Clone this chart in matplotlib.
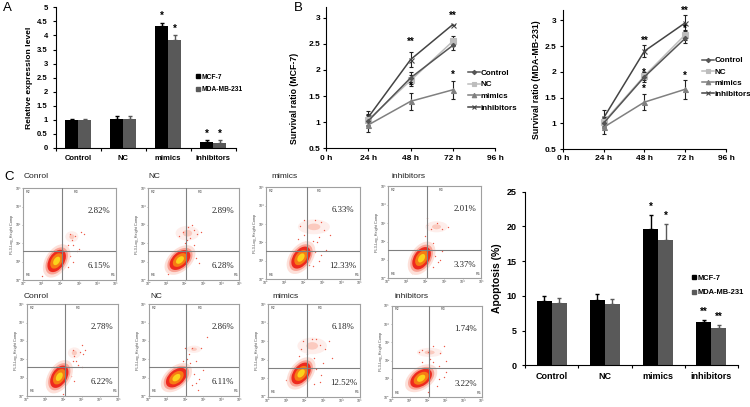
import matplotlib
matplotlib.use('Agg')
import matplotlib.pyplot as plt
from matplotlib.patches import Ellipse

plt.rcParams['font.family'] = ['Liberation Sans', 'DejaVu Sans']

W, H = 750, 407

groups = ['Control', 'NC', 'mimics', 'inhibitors']
cells = ['MCF-7', 'MDA-MB-231']
times = ['0 h', '24 h', '48 h', '72 h', '96 h']

# panel A
expr_mcf = [1.0, 1.02, 4.32, 0.22]
expr_mcf_err = [0.03, 0.1, 0.13, 0.05]
expr_mda = [1.0, 1.04, 3.83, 0.17]
expr_mda_err = [0.03, 0.08, 0.17, 0.1]
expr_stars = ['', '', '*', '*']

# panel B, 24/48/72 h
surv_hours = [1, 2, 3]
mcf_control = [1.03, 1.85, 2.47]
mcf_nc = [1.05, 1.80, 2.55]
mcf_mimics = [0.95, 1.40, 1.62]
mcf_inhib = [1.10, 2.20, 2.87]
mcf_control_err = [0.10, 0.12, 0.08]
mcf_nc_err = [0.10, 0.10, 0.10]
mcf_mimics_err = [0.13, 0.16, 0.17]
mcf_inhib_err = [0.12, 0.15, 0.0]
mcf_star_vals = [2.53, 1.70, 3.03, 1.90]
mcf_star_hours = [2, 2, 3, 3]
mcf_star_text = ['**', '*', '**', '*']

mda_control = [1.0, 1.90, 2.65]
mda_nc = [1.02, 1.92, 2.72]
mda_mimics = [0.92, 1.41, 1.66]
mda_inhib = [1.10, 2.40, 2.95]
mda_control_err = [0.10, 0.09, 0.10]
mda_nc_err = [0.10, 0.08, 0.10]
mda_mimics_err = [0.13, 0.15, 0.18]
mda_inhib_err = [0.16, 0.12, 0.15]
mda_star_vals = [2.60, 1.98, 1.66, 3.18, 2.84, 1.93]
mda_star_hours = [2, 2, 2, 3, 3, 3]
mda_star_text = ['**', '*', '*', '**', '*', '*']

# panel C bars
apop_mcf = [9.3, 9.4, 19.7, 6.2]
apop_mcf_err = [0.7, 0.9, 1.9, 0.35]
apop_mda = [9.0, 8.8, 18.0, 5.4]
apop_mda_err = [0.7, 0.7, 2.3, 0.4]
apop_stars = ['', '', '*', '**']

# flow panels, log units
flow_titles = ['Conrol', 'NC', 'mimics', 'inhibitors'] * 2
flow_upper = ['2.82%', '2.89%', '6.33%', '2.01%', '2.78%', '2.86%', '6.18%', '1.74%']
flow_lower = ['6.15%', '6.28%', '12.33%', '3.37%', '6.22%', '6.11%', '12.52%', '3.22%']
flow_cross_x = [2.10, 2.07, 2.16, 2.10, 2.09, 2.06, 2.10, 2.08]
flow_cross_y = [1.58, 1.60, 1.54, 1.52, 1.58, 1.56, 1.53, 1.58]
blob_x = [1.80, 1.74, 1.86, 1.80, 1.78, 1.53, 1.80, 1.63]
blob_y = [1.04, 1.09, 1.18, 1.09, 1.05, 1.00, 1.26, 1.04]
blob_angle = [58, 42, 55, 58, 58, 40, 52, 35]
cloud_x = [2.62, 2.15, 2.55, 2.60, 2.60, 2.50, 2.40, 2.10]
cloud_y = [2.36, 2.55, 2.85, 2.80, 2.35, 2.55, 2.75, 2.45]
cloud_w = [0.7, 1.3, 1.7, 1.2, 0.7, 0.8, 1.6, 1.4]
cloud_h = [0.6, 0.8, 0.8, 0.6, 0.6, 0.4, 0.9, 0.5]

flow_specks = [
    [(2.5, 2.5), (2.6, 2.2), (2.8, 2.4), (3.1, 2.6), (2.7, 1.9), (3.0, 1.7), (2.9, 1.6), (2.4, 1.9),
     (2.5, 1.3), (2.7, 1.0), (2.4, 0.7), (1.0, 0.2), (1.3, 0.5), (2.2, 1.7), (2.05, 1.9), (3.3, 2.5)],
    [(1.7, 2.4), (1.9, 2.6), (2.2, 2.9), (2.3, 2.3), (2.5, 2.7), (2.7, 2.5), (2.0, 2.0), (2.3, 1.8),
     (2.5, 1.9), (2.6, 1.2), (2.8, 0.9), (1.1, 0.3), (2.1, 1.5), (2.9, 2.6), (2.1, 2.2), (2.4, 3.0)],
    [(1.8, 2.9), (2.0, 2.4), (2.1, 2.0), (2.5, 2.1), (2.7, 2.0), (2.9, 1.3), (2.8, 1.0), (2.5, 0.7),
     (2.6, 1.5), (3.1, 2.7), (3.4, 2.4), (1.7, 2.2), (2.2, 1.8), (1.2, 0.6), (2.9, 3.1), (3.2, 1.6),
     (2.3, 0.8), (2.0, 3.2), (2.6, 3.2), (2.8, 2.3)],
    [(2.1, 2.9), (2.3, 2.7), (2.6, 3.0), (2.9, 2.7), (3.2, 2.8), (2.0, 1.9), (2.2, 1.7), (2.5, 1.2),
     (2.7, 0.9), (2.4, 0.6), (2.1, 3.3), (2.0, 2.3), (2.4, 1.9), (2.9, 1.5), (1.3, 0.3), (2.8, 1.0)],
    [(2.5, 2.5), (2.6, 2.2), (2.9, 2.4), (3.2, 2.5), (2.7, 1.9), (3.0, 1.6), (2.8, 1.7), (2.5, 1.9),
     (2.4, 1.1), (2.6, 0.8), (1.4, 0.3), (1.2, 0.5), (2.0, 0.1), (2.2, 1.8), (3.1, 2.3), (3.0, 2.8)],
    [(2.1, 2.0), (2.2, 2.3), (2.3, 1.8), (1.9, 1.9), (2.4, 2.6), (2.9, 2.6), (3.2, 3.2), (2.6, 1.9),
     (2.5, 1.2), (2.8, 0.9), (3.0, 1.4), (2.4, 0.6), (2.7, 0.3), (1.8, 1.7), (2.6, 0.7), (2.0, 2.6)],
    [(1.8, 2.6), (1.9, 3.0), (2.1, 2.3), (2.0, 1.9), (2.5, 2.1), (2.6, 1.5), (2.9, 1.2), (2.8, 0.8),
     (2.5, 0.7), (3.1, 2.6), (3.3, 3.0), (3.5, 2.1), (1.2, 0.6), (1.0, 0.9), (2.4, 3.1), (2.8, 2.8),
     (3.0, 1.8), (2.2, 1.0), (2.6, 3.1), (1.7, 2.2)],
    [(1.5, 2.5), (1.7, 2.6), (2.0, 2.5), (2.3, 2.8), (2.7, 2.4), (2.9, 2.8), (3.0, 2.0), (2.6, 1.7),
     (2.3, 1.9), (2.1, 2.1), (2.6, 1.0), (2.9, 1.1), (2.5, 0.6), (2.0, 0.3), (1.7, 1.9), (3.0, 1.4)],
]


def px_axes(left, top, right, bottom):
    return fig.add_axes([left / W, 1 - bottom / H, (right - left) / W, (bottom - top) / H])


def bar_panel(ax, vals1, err1, vals2, err2, stars, ymax, step, star_gap, width, fs, ylabel, ylab_fs, star_fs):
    x = list(range(4))
    for off, vals, err, col in [(-width / 2, vals1, err1, 'black'), (width / 2, vals2, err2, '#595959')]:
        xs = [i + off for i in x]
        ax.bar(xs, vals, width, color=col, yerr=[[0] * 4, err], ecolor=col,
               error_kw=dict(lw=1.0, capsize=1.6, capthick=1.0))
        for xi, v, e, s in zip(xs, vals, err, stars):
            if s:
                ax.text(xi, v + e + star_gap, s, ha='center', va='center', fontsize=star_fs, fontweight='bold')
    ax.set_xlim(-0.5, 3.5)
    ax.set_ylim(0, ymax)
    ticks = [step * i for i in range(int(round(ymax / step)) + 1)]
    ax.set_yticks(ticks)
    ax.set_yticklabels([f'{t:g}' for t in ticks], fontsize=fs, fontweight='bold')
    ax.set_xticks([-0.5, 0.5, 1.5, 2.5, 3.5])
    ax.set_xticklabels([])
    ax.set_xticks(x, minor=True)
    ax.set_xticklabels(groups, minor=True, fontsize=fs, fontweight='bold')
    ax.tick_params(axis='x', which='minor', length=0, pad=5)
    ax.tick_params(axis='both', which='major', length=2.5, width=0.8, direction='out')
    ax.set_ylabel(ylabel, fontsize=ylab_fs, fontweight='bold', labelpad=3)
    for s in ['top', 'right']:
        ax.spines[s].set_visible(False)


def line_panel(ax, series, errs, star_hours, star_vals, star_text, ylabel):
    styles = [('#555555', 'D', 2.2), ('#bdbdbd', 's', 3.8), ('#808080', '^', 3.6), ('#444444', 'x', 3.6)]
    order = [3, 1, 2, 0]
    for i in order:
        col, mk, ms = styles[i]
        ax.errorbar(surv_hours, series[i], yerr=errs[i], color=col, marker=mk, ms=ms, lw=1.1, mew=0.8,
                    ecolor='#222222', elinewidth=0.8, capsize=1.5, capthick=0.8)
    for h, v, s in zip(star_hours, star_vals, star_text):
        ax.text(h, v, s, ha='center', va='center', fontsize=7, fontweight='bold')
    ax.set_xlim(0, 4)
    ax.set_ylim(0.5, 3.2)
    ax.set_yticks([0.5, 1, 1.5, 2, 2.5, 3])
    ax.set_yticklabels(['0.5', '1', '1.5', '2', '2.5', '3'], fontsize=6, fontweight='bold')
    ax.set_xticks(range(5))
    ax.set_xticklabels(times, fontsize=6, fontweight='bold')
    ax.tick_params(length=2.5, width=0.8, pad=2)
    ax.set_ylabel(ylabel, fontsize=6.3, fontweight='bold', labelpad=3)
    for s in ['top', 'right']:
        ax.spines[s].set_visible(False)


def flow_panel(box, i):
    ax = px_axes(*box)
    ax.set_xlim(0, 5)
    ax.set_ylim(0, 5)
    pale = Ellipse((cloud_x[i], cloud_y[i]), cloud_w[i], cloud_h[i], color='#feeeeb', lw=0, zorder=1)
    ax.add_patch(pale)
    core = Ellipse((cloud_x[i], cloud_y[i]), cloud_w[i] * 0.4, cloud_h[i] * 0.45, color='#fbcabf', lw=0, zorder=1)
    ax.add_patch(core)
    xs = [p[0] for p in flow_specks[i]]
    ys = [p[1] for p in flow_specks[i]]
    ax.scatter(xs, ys, s=1.0, color='#ee5a48', lw=0, zorder=2)
    # nested rings for the dense population
    for scale, col in [(1.25, '#fde0d9'), (1.02, '#f9a294'), (0.84, '#ee2a1e'), (0.58, '#f77a14'), (0.32, '#fbd21c')]:
        ax.add_patch(Ellipse((blob_x[i], blob_y[i]), 1.6 * scale, 0.98 * scale, angle=blob_angle[i],
                             color=col, lw=0, zorder=3))
    ax.axvline(flow_cross_x[i], color='#808080', lw=0.8, zorder=4)
    ax.axhline(flow_cross_y[i], color='#808080', lw=0.8, zorder=4)
    ax.text(4.1, 3.75, flow_upper[i], family='Liberation Serif', fontsize=6.3, color='#222222', ha='center', va='center', zorder=5)
    ax.text(4.1, 0.74, flow_lower[i], family='Liberation Serif', fontsize=6.3, color='#222222', ha='center', va='center', zorder=5)
    ax.text(0.15, 4.8, 'R2', fontsize=2.6, color='#444444', va='center')
    ax.text(2.7, 4.8, 'R3', fontsize=2.6, color='#444444', va='center')
    ax.text(0.15, 0.25, 'R4', fontsize=2.6, color='#444444', va='center')
    ax.text(4.7, 0.25, 'R5', fontsize=2.6, color='#444444', va='center')
    ax.set_xticks(range(6))
    ax.set_yticks(range(6))
    labs = ['10\u2070', '10\u00b9', '10\u00b2', '10\u00b3', '10\u2074', '10\u2075']
    ax.set_xticklabels(labs, fontsize=2.6, color='#444444')
    ax.set_yticklabels(labs, fontsize=2.6, color='#444444')
    ax.tick_params(length=1, width=0.4, pad=0.5, color='#777777')
    ax.set_ylabel('FL3-Log_Height Comp', fontsize=2.8, color='#444444', labelpad=0.8)
    for s in ax.spines.values():
        s.set_color('#a0a0a0')
        s.set_linewidth(0.8)
    fig.text((box[0] + title_dx[i]) / W, 1 - title_y[i] / H, flow_titles[i], fontsize=6.0,
             color='#222222', va='center')


fig = plt.figure(figsize=(7.5, 4.07), dpi=100)

ax_a = px_axes(56, 7.3, 235.5, 148)
bar_panel(ax_a, expr_mcf, expr_mcf_err, expr_mda, expr_mda_err, expr_stars, 5, 0.5, 0.24, 0.29, 5.5,
          'Relative expression level', 6.1, 7)

ax_b = px_axes(326.3, 7.3, 495, 148.3)
line_panel(ax_b, [mcf_control, mcf_nc, mcf_mimics, mcf_inhib],
           [mcf_control_err, mcf_nc_err, mcf_mimics_err, mcf_inhib_err],
           mcf_star_hours, mcf_star_vals, mcf_star_text, 'Survival ratio (MCF-7)')
ax_b.yaxis.set_label_coords(-0.162, 0.357)

ax_b2 = px_axes(562.7, 10, 726, 149)
line_panel(ax_b2, [mda_control, mda_nc, mda_mimics, mda_inhib],
           [mda_control_err, mda_nc_err, mda_mimics_err, mda_inhib_err],
           mda_star_hours, mda_star_vals, mda_star_text, 'Survival ratio (MDA-MB-231)')

ax_c = px_axes(525, 191.7, 738, 365.3)
bar_panel(ax_c, apop_mcf, apop_mcf_err, apop_mda, apop_mda_err, apop_stars, 25, 5, 1.2, 0.28, 6.5,
          'Apoptosis (%)', 7.5, 7)

# legends
bar_handles = [plt.Line2D([], [], ls='', marker='s', ms=2.6, color=c) for c in ['black', '#595959']]
legend_font = dict(weight='bold', size=4.8)
fig.legend(bar_handles, cells, loc='center left', bbox_to_anchor=(190 / W, 1 - 83.5 / H), frameon=False,
           prop=legend_font, handlelength=0.6, handletextpad=0.2, labelspacing=0.85)
legend_font_c = dict(weight='bold', size=5.4)
fig.legend(bar_handles, cells, loc='center left', bbox_to_anchor=(685 / W, 1 - 285.5 / H), frameon=False,
           prop=legend_font_c, handlelength=0.6, handletextpad=0.2, labelspacing=1.0)

line_handles = [plt.Line2D([], [], color=c, marker=m, ms=s, lw=1.1, mew=0.8) for c, m, s in
                [('#555555', 'D', 2.2), ('#bdbdbd', 's', 3.4), ('#808080', '^', 3.2), ('#444444', 'x', 3.4)]]
line_font = dict(weight='bold', size=5.8)
fig.legend(line_handles, groups, loc='center left', bbox_to_anchor=(461 / W, 1 - 90.5 / H), frameon=False,
           prop=line_font, handlelength=1.4, handletextpad=0.15, labelspacing=0.5)
fig.legend(line_handles, groups, loc='center left', bbox_to_anchor=(695 / W, 1 - 77.5 / H), frameon=False,
           prop=line_font, handlelength=1.4, handletextpad=0.15, labelspacing=0.45)

# flow cytometry grid
title_dx = [0, 0, 5, 3, -3, 2, 4, 3]
title_y = [177, 177, 177, 177, 297, 297, 297, 297]
flow_boxes = [
    (23.3, 188.3, 116, 280), (148.3, 188.3, 239.3, 280), (266, 187.3, 360, 279.3), (388, 186.3, 481.3, 278.3),
    (26.7, 304.3, 118.3, 396), (148.7, 304.3, 239.3, 396), (268, 304.3, 360, 396.7), (391.7, 305.7, 482, 397.3),
]
for n, box in enumerate(flow_boxes):
    flow_panel(box, n)

fig.text(7 / W, 1 - 8 / H, 'A', fontsize=9.5, va='center', ha='center')
fig.text(298 / W, 1 - 8 / H, 'B', fontsize=9.5, va='center', ha='center')
fig.text(9 / W, 1 - 177 / H, 'C', fontsize=9.5, va='center', ha='center')

fig.savefig('out.png', dpi=100)
